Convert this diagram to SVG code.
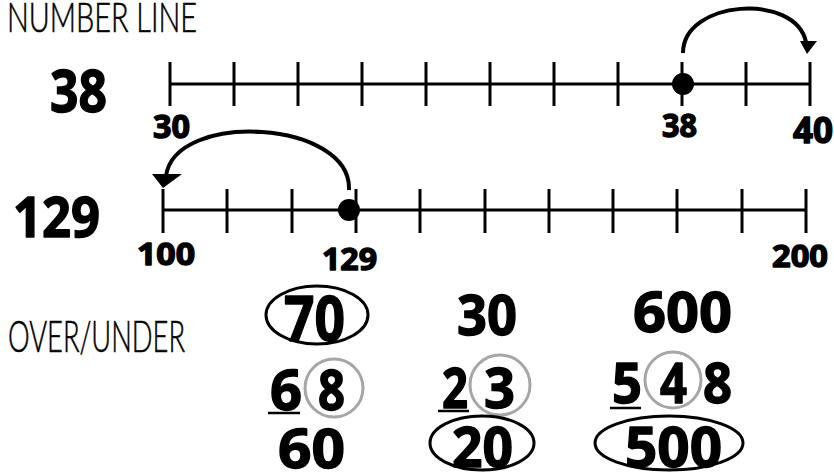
<svg xmlns="http://www.w3.org/2000/svg" width="834" height="472" viewBox="0 0 834 472">
<style>
.bg{fill:#fff}
.thin{font-family:Lato,"Open Sans","Liberation Sans",sans-serif;font-weight:300;fill:#000;stroke:#000;stroke-width:0.6}
.num{font-family:"Open Sans","DejaVu Sans",sans-serif;font-weight:700;fill:#000;stroke:#000;stroke-width:1.4;stroke-linejoin:round}
.axis{stroke:#000;stroke-width:3;fill:none}
.arc{stroke:#000;stroke-width:4;fill:none}
.ell{stroke:#000;stroke-width:3;fill:none}
.gc{stroke:#a6a6a6;stroke-width:3;fill:none}
.ul{stroke:#000;stroke-width:2.5}
</style>
<rect class="bg" x="0" y="0" width="834" height="472"/>
<g id="title-number-line"><text class="thin" x="7" y="32" font-size="42" textLength="190" lengthAdjust="spacingAndGlyphs">NUMBER LINE</text></g>

<g id="line-38">
<text class="num" x="50" y="112" font-size="59" textLength="57" lengthAdjust="spacingAndGlyphs">38</text>
<line class="axis" x1="170" y1="84" x2="810" y2="84"/>
<g class="axis">
<line x1="170" y1="62" x2="170" y2="106"/><line x1="234" y1="62" x2="234" y2="106"/><line x1="298" y1="62" x2="298" y2="106"/><line x1="362" y1="62" x2="362" y2="106"/><line x1="426" y1="62" x2="426" y2="106"/><line x1="490" y1="62" x2="490" y2="106"/><line x1="554" y1="62" x2="554" y2="106"/><line x1="618" y1="62" x2="618" y2="106"/><line x1="682" y1="62" x2="682" y2="106"/><line x1="746" y1="62" x2="746" y2="106"/><line x1="810" y1="62" x2="810" y2="106"/>
</g>
<circle cx="683" cy="84" r="11" fill="#000"/>
<text class="num" x="153" y="138" font-size="32" textLength="37" lengthAdjust="spacingAndGlyphs">30</text>
<text class="num" x="662" y="137" font-size="32" textLength="35" lengthAdjust="spacingAndGlyphs">38</text>
<text class="num" x="793" y="143" font-size="35" textLength="40" lengthAdjust="spacingAndGlyphs">40</text>
</g>

<g id="line-129">
<text class="num" x="13" y="237" font-size="56" textLength="87" lengthAdjust="spacingAndGlyphs">129</text>
<line class="axis" x1="163" y1="210" x2="806" y2="210"/>
<g class="axis">
<line x1="163" y1="189" x2="163" y2="233"/><line x1="227" y1="189" x2="227" y2="233"/><line x1="292" y1="189" x2="292" y2="233"/><line x1="356" y1="189" x2="356" y2="233"/><line x1="420" y1="189" x2="420" y2="233"/><line x1="485" y1="189" x2="485" y2="233"/><line x1="549" y1="189" x2="549" y2="233"/><line x1="613" y1="189" x2="613" y2="233"/><line x1="677" y1="189" x2="677" y2="233"/><line x1="742" y1="189" x2="742" y2="233"/><line x1="806" y1="189" x2="806" y2="233"/>
</g>
<circle cx="349" cy="210" r="11" fill="#000"/>
<text class="num" x="137" y="265" font-size="31" textLength="58" lengthAdjust="spacingAndGlyphs">100</text>
<text class="num" x="322" y="270" font-size="31" textLength="55" lengthAdjust="spacingAndGlyphs">129</text>
<text class="num" x="772" y="267" font-size="31" textLength="56" lengthAdjust="spacingAndGlyphs">200</text>
</g>

<g id="connectors">
<path class="arc" d="M683 53 C683 0 795 -8 806 42"/>
<polygon points="800,41 817,41 807,54" fill="#000"/>
<path class="arc" d="M349 190 C352 120 175 110 166 176"/>
<polygon points="152,174 182,174 163,188" fill="#000"/>
</g>

<g id="title-over-under"><text class="thin" x="8" y="352" font-size="44" textLength="177" lengthAdjust="spacingAndGlyphs">OVER/UNDER</text></g>

<g id="col-68">
<ellipse class="ell" cx="317" cy="315" rx="51" ry="29"/>
<text class="num" x="284" y="341" font-size="62" textLength="61" lengthAdjust="spacingAndGlyphs">70</text>
<text class="num" x="270" y="410" font-size="56" textLength="32" lengthAdjust="spacingAndGlyphs">6</text>
<text class="num" x="318" y="410" font-size="56" textLength="27" lengthAdjust="spacingAndGlyphs">8</text>
<line class="ul" x1="268" y1="413" x2="300" y2="413"/>
<circle class="gc" cx="334" cy="388" r="29"/>
<text class="num" x="278" y="468" font-size="54" textLength="67" lengthAdjust="spacingAndGlyphs">60</text>
</g>

<g id="col-23">
<text class="num" x="457" y="335" font-size="56" textLength="60" lengthAdjust="spacingAndGlyphs">30</text>
<text class="num" x="442" y="408" font-size="56" textLength="26" lengthAdjust="spacingAndGlyphs">2</text>
<text class="num" x="484" y="408" font-size="56" textLength="31" lengthAdjust="spacingAndGlyphs">3</text>
<line class="ul" x1="438" y1="411" x2="469" y2="411"/>
<circle class="gc" cx="500" cy="385" r="30"/>
<ellipse class="ell" cx="482" cy="443" rx="52" ry="27"/>
<text class="num" x="452" y="467" font-size="56" textLength="61" lengthAdjust="spacingAndGlyphs">20</text>
</g>

<g id="col-548">
<text class="num" x="633" y="332" font-size="56" textLength="99" lengthAdjust="spacingAndGlyphs">600</text>
<text class="num" x="612" y="403" font-size="56" textLength="30" lengthAdjust="spacingAndGlyphs">5</text>
<text class="num" x="660" y="403" font-size="56" textLength="27" lengthAdjust="spacingAndGlyphs">4</text>
<text class="num" x="703" y="403" font-size="56" textLength="29" lengthAdjust="spacingAndGlyphs">8</text>
<line class="ul" x1="610" y1="408" x2="641" y2="408"/>
<circle class="gc" cx="673" cy="380" r="28"/>
<ellipse class="ell" cx="669" cy="443" rx="74" ry="27"/>
<text class="num" x="625" y="467" font-size="56" textLength="97" lengthAdjust="spacingAndGlyphs">500</text>
</g>
</svg>
